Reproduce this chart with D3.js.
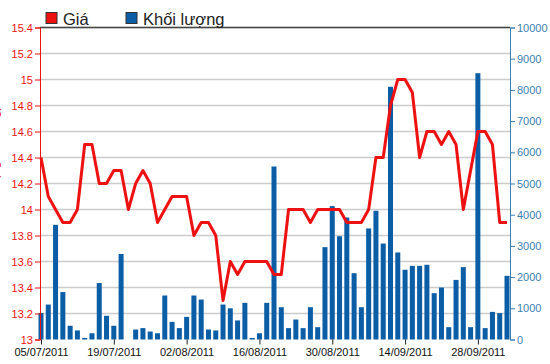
<!DOCTYPE html>
<html><head><meta charset="utf-8">
<script src="https://cdn.jsdelivr.net/npm/d3@7"></script>
<style>html,body{margin:0;padding:0;background:#fff;overflow:hidden}svg{display:block;font-family:"Liberation Sans",Arial,sans-serif}</style>
</head><body>
<svg id="c" width="550" height="364"></svg>
<script>
const dates = ["05/07/2011","06/07/2011","07/07/2011","08/07/2011","11/07/2011","12/07/2011","13/07/2011","14/07/2011","15/07/2011","18/07/2011","19/07/2011","20/07/2011","21/07/2011","22/07/2011","25/07/2011","26/07/2011","27/07/2011","28/07/2011","29/07/2011","01/08/2011","02/08/2011","03/08/2011","04/08/2011","05/08/2011","08/08/2011","09/08/2011","10/08/2011","11/08/2011","12/08/2011","15/08/2011","16/08/2011","17/08/2011","18/08/2011","19/08/2011","22/08/2011","23/08/2011","24/08/2011","25/08/2011","26/08/2011","29/08/2011","30/08/2011","31/08/2011","01/09/2011","05/09/2011","06/09/2011","07/09/2011","08/09/2011","09/09/2011","12/09/2011","13/09/2011","14/09/2011","15/09/2011","16/09/2011","19/09/2011","20/09/2011","21/09/2011","22/09/2011","23/09/2011","26/09/2011","27/09/2011","28/09/2011","29/09/2011","30/09/2011","03/10/2011","04/10/2011"];
const price = [14.4,14.1,14.0,13.9,13.9,14.0,14.5,14.5,14.2,14.2,14.3,14.3,14.0,14.2,14.3,14.2,13.9,14.0,14.1,14.1,14.1,13.8,13.9,13.9,13.8,13.3,13.6,13.5,13.6,13.6,13.6,13.6,13.5,13.5,14.0,14.0,14.0,13.9,14.0,14.0,14.0,14.0,13.9,13.9,13.9,14.0,14.4,14.4,14.8,15.0,15.0,14.9,14.4,14.6,14.6,14.5,14.6,14.5,14.0,14.3,14.6,14.6,14.5,13.9,13.9];
const volume = [850,1120,3675,1520,440,290,50,200,1810,760,440,2740,0,320,365,255,200,1410,565,365,725,1410,1280,320,290,1120,1000,610,1175,50,200,1175,5545,1035,365,640,365,1035,395,2960,4275,3310,3910,2125,1035,3560,4125,3075,8100,2790,2235,2360,2360,2395,1485,1665,395,1910,2320,395,8535,365,885,845,2040];
const priceTicks = [13,13.2,13.4,13.6,13.8,14,14.2,14.4,14.6,14.8,15,15.2,15.4];
const volumeTicks = [0,1000,2000,3000,4000,5000,6000,7000,8000,9000,10000];
const xTickLabels = ["05/07/2011","19/07/2011","02/08/2011","16/08/2011","30/08/2011","14/09/2011","28/09/2011"];
const legendItems = ["Giá","Khối lượng"];
const priceAxisTitle = "Giá (nghìn đồng)";

const svg = d3.select("#c");
const L = 40, R = 510, T = 27.5, B = 339.5;
const x = d3.scalePoint().domain(dates).range([41, 507]);
const yP = d3.scaleLinear().domain([13, 15.4]).range([B, T]);
const yV = d3.scaleLinear().domain([0, 10000]).range([B, T]);
const red = "#ee1111", blue = "#0b5da6", axBlue = "#3b7fb3";

// grid
svg.append("g").selectAll("line").data(priceTicks.slice(1)).join("line")
  .attr("x1", L).attr("x2", R).attr("y1", d => yP(d)).attr("y2", d => yP(d))
  .attr("stroke", "#cccccc").attr("stroke-width", 1.5);

// bars
const bw = 5;
svg.append("g").selectAll("rect").data(volume).join("rect")
  .attr("x", (d, i) => x(dates[i]) - bw / 2).attr("width", bw)
  .attr("y", d => yV(d)).attr("height", d => B - yV(d))
  .attr("fill", blue);

// line
svg.append("path").datum(price)
  .attr("d", d3.line().x((d, i) => x(dates[i])).y(d => yP(d)))
  .attr("fill", "none").attr("stroke", red).attr("stroke-width", 3).attr("stroke-linejoin", "round");

// top border
svg.append("line").attr("x1", L).attr("x2", R).attr("y1", T).attr("y2", T).attr("stroke", "#444").attr("stroke-width", 1.5);

// left axis
const la = svg.append("g").attr("transform", `translate(${L},0)`)
  .call(d3.axisLeft(yP).tickValues(priceTicks).tickFormat(d3.format("~g")).tickSize(5).tickPadding(2));
la.selectAll("path,line").attr("stroke", red);
la.selectAll("text").attr("fill", red).style("font-size", "11px").style("font-family", "Liberation Sans, Arial, sans-serif");

// left axis title (partly cut off by the left edge, as in the reference)
svg.append("text").attr("transform", "translate(-2,155) rotate(-90)")
  .attr("text-anchor", "middle").attr("fill", red).style("font-size", "13px").text(priceAxisTitle);

// right axis
const ra = svg.append("g").attr("transform", `translate(${R},0)`)
  .call(d3.axisRight(yV).tickValues(volumeTicks).tickFormat(d3.format("d")).tickSize(5).tickPadding(2));
ra.selectAll("path,line").attr("stroke", axBlue);
ra.selectAll("text").attr("fill", axBlue).style("font-size", "11px").style("font-family", "Liberation Sans, Arial, sans-serif");

// bottom axis
const ba = svg.append("g").attr("transform", `translate(0,${B})`)
  .call(d3.axisBottom(x).tickValues(xTickLabels).tickSize(5).tickPadding(4));
ba.select(".domain").remove();
ba.selectAll("line").attr("stroke", "#222");
ba.selectAll("text").attr("fill", "#111").style("font-size", "11px").style("font-family", "Liberation Sans, Arial, sans-serif");

// legend
const lg = svg.append("g");
const lx = [46, 126], lc = [red, blue];
legendItems.forEach((t, i) => {
  lg.append("rect").attr("x", lx[i]).attr("y", 12.5).attr("width", 11).attr("height", 11)
    .attr("fill", lc[i]).attr("stroke", "#333").attr("stroke-width", 1);
  lg.append("text").attr("x", lx[i] + 17).attr("y", 24.5).text(t)
    .attr("fill", "#222").style("font-size", "16.5px");
});
</script>
</body></html>
